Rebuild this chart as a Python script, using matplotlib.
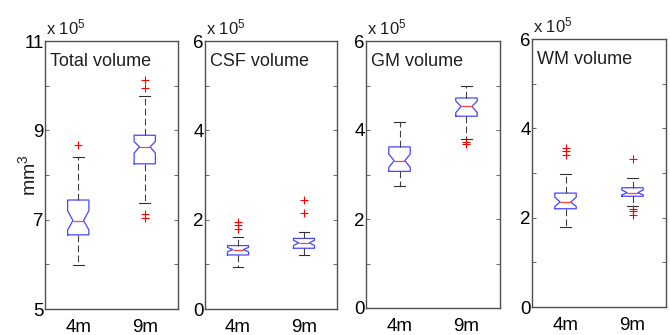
import matplotlib
matplotlib.use("Agg")
import matplotlib.pyplot as plt

plt.rcParams['font.family'] = ['Liberation Sans', 'DejaVu Sans']
plt.rcParams['mathtext.fontset'] = 'custom'
plt.rcParams['mathtext.rm'] = 'Liberation Sans'
plt.rcParams['mathtext.it'] = 'Liberation Sans'

# values in units of 10^5 mm^3
groups = ["4m", "9m"]
titles = ["Total volume", "CSF volume", "GM volume", "WM volume"]

total_4m = dict(whislo=5.99, q1=6.66, med=6.98, q3=7.44, whishi=8.40, cilo=6.77, cihi=7.20, fliers=[8.68])
total_9m = dict(whislo=7.37, q1=8.25, med=8.63, q3=8.89, whishi=9.76, cilo=8.49, cihi=8.75, fliers=[10.13, 9.95, 7.13, 7.04])
csf_4m = dict(whislo=0.94, q1=1.21, med=1.33, q3=1.42, whishi=1.61, cilo=1.28, cihi=1.38, fliers=[1.94, 1.87, 1.78])
csf_9m = dict(whislo=1.22, q1=1.36, med=1.48, q3=1.58, whishi=1.72, cilo=1.42, cihi=1.54, fliers=[2.43, 2.16])
gm_4m = dict(whislo=2.75, q1=3.07, med=3.31, q3=3.62, whishi=4.19, cilo=3.16, cihi=3.46, fliers=[])
gm_9m = dict(whislo=3.79, q1=4.31, med=4.53, q3=4.72, whishi=4.99, cilo=4.39, cihi=4.65, fliers=[3.73, 3.69])
wm_4m = dict(whislo=1.79, q1=2.20, med=2.35, q3=2.55, whishi=2.97, cilo=2.25, cihi=2.46, fliers=[3.56, 3.50, 3.41])
wm_9m = dict(whislo=2.26, q1=2.48, med=2.56, q3=2.67, whishi=2.89, cilo=2.51, cihi=2.62, fliers=[3.31, 2.20, 2.14, 2.07])

panels = [[total_4m, total_9m], [csf_4m, csf_9m], [gm_4m, gm_9m], [wm_4m, wm_9m]]
ylims = [(5, 11), (0, 6), (0, 6), (0, 6)]

# panel boxes in pixels: left, right, top, bottom
W, H = 670, 335
boxes = [(45, 178, 41, 309), (205, 337, 41, 309), (366, 500, 41, 308), (532, 666, 39, 307)]

fig = plt.figure(figsize=(6.7, 3.35), dpi=100)
spine_c = "#505050"

for i in range(4):
    l, r, t, b = boxes[i]
    ax = fig.add_axes([l / W, 1 - b / H, (r - l) / W, (b - t) / H])
    stats = []
    for g, s in zip(groups, panels[i]):
        d = dict(s)
        d["label"] = g
        stats.append(d)
    ax.bxp(stats, positions=[1, 2], widths=0.32, capwidths=0.16, shownotches=True,
           boxprops=dict(color="#4646ff", linewidth=0.9),
           medianprops=dict(color="#ff4040", linewidth=0.9),
           whiskerprops=dict(color="#404040", linewidth=0.8, linestyle=(0, (6, 3))),
           capprops=dict(color="#303030", linewidth=0.8),
           flierprops=dict(marker="+", markeredgecolor="red", markersize=6, markeredgewidth=0.8, linestyle="none"))
    y0, y1 = ylims[i]
    ax.set_xlim(0.5, 2.5)
    ax.set_ylim(y0, y1)
    yt = list(range(y0, y1 + 1))
    ax.set_yticks(yt)
    ax.set_yticklabels([str(v) if (v - y0) % 2 == 0 else "" for v in yt], fontsize=13.5)
    ax.tick_params(axis="y", direction="in", length=3, width=0.6, color=spine_c, pad=1, right=True)
    ax.tick_params(axis="x", length=0, labelsize=13.5, pad=7)
    for sp in ax.spines.values():
        sp.set_color(spine_c)
        sp.set_linewidth(1.0)
    ax.text(0.04, 0.955, titles[i], transform=ax.transAxes, fontsize=13, va="top", ha="left", color="#202020")
    ax.text(0.01, 1.015, r"x 10$^{5}$", transform=ax.transAxes, fontsize=12, va="bottom", ha="left", color="#202020")
    if i == 0:
        ax.text(-0.045, 0.5, r"mm$^{3}$", transform=ax.transAxes, fontsize=14, rotation=90,
                ha="right", va="center", color="#202020")

fig.savefig("out.png", dpi=100)
